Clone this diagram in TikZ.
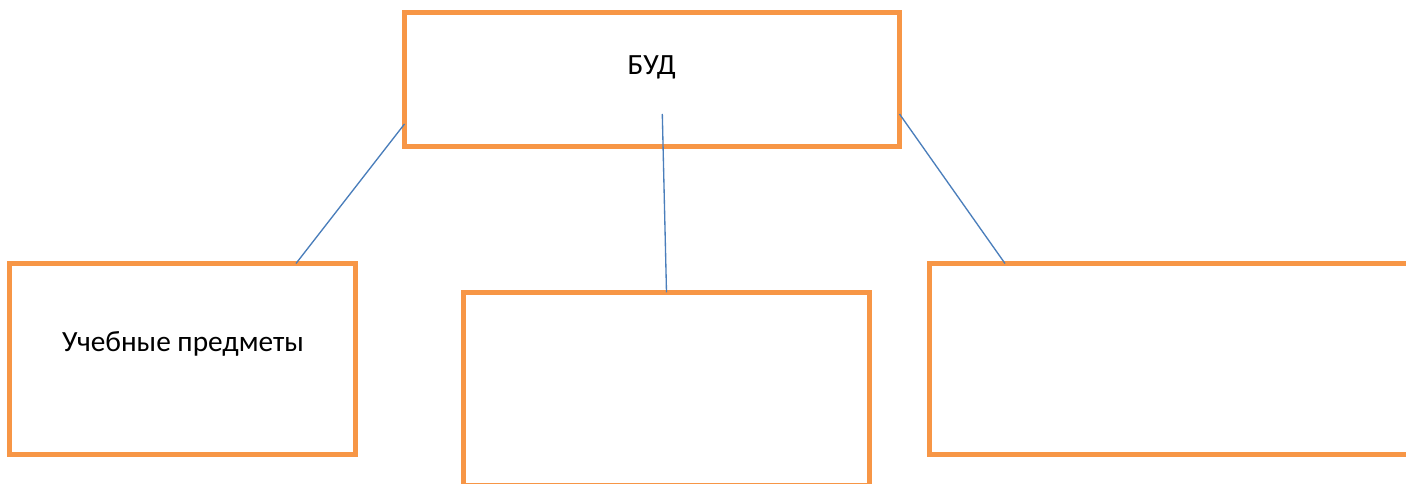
\documentclass[tikz,border=0pt]{standalone}
\usepackage{fontspec}
\setmainfont{Carlito}
\usetikzlibrary{calc}
\definecolor{boxorange}{HTML}{F79646}
\definecolor{lineblue}{HTML}{4A7EBB}
\tikzset{
  orangebox/.style={draw=boxorange, line width=3.75pt, rectangle, inner sep=0pt, outer sep=0pt, fill=white},
  conn/.style={draw=lineblue, line width=1pt},
  lbl/.style={font=\fontsize{22pt}{26pt}\selectfont, text=black, inner sep=0pt, anchor=base}
}
\begin{document}
\begin{tikzpicture}[x=0.75pt, y=-0.75pt]
\useasboundingbox (0,0) rectangle (1406,484);
\clip (0,0) rectangle (1406,484);
\fill[white] (0,0) rectangle (1406,484);
% boxes
\node[orangebox, minimum width=371.25pt, minimum height=100.5pt] (top) at (652,79.5) {};
\node[orangebox, minimum width=259.5pt, minimum height=143.25pt] (L) at (182.5,359) {};
\node[orangebox, minimum width=304.5pt, minimum height=144.4pt] (M) at (666.5,388.75) {};
\node[orangebox, minimum width=368.25pt, minimum height=143.25pt] (R) at (1174.5,359) {};
% labels
\node[lbl] (tlabel) at (651.7,74.3) {БУД};
\node[lbl] (llabel) at (183,352) {Учебные предметы};
% connectors
\draw[conn] ($(top.south west)+(0,-22.5)$) -- ($(L.north west)+(286.5,0)$);
\draw[conn] ($(top.south)+(10.3,-32.5)$) -- (M.north);
\draw[conn] ($(top.south east)+(0,-32.5)$) -- ($(R.north west)+(76,0)$);
\end{tikzpicture}
\end{document}
